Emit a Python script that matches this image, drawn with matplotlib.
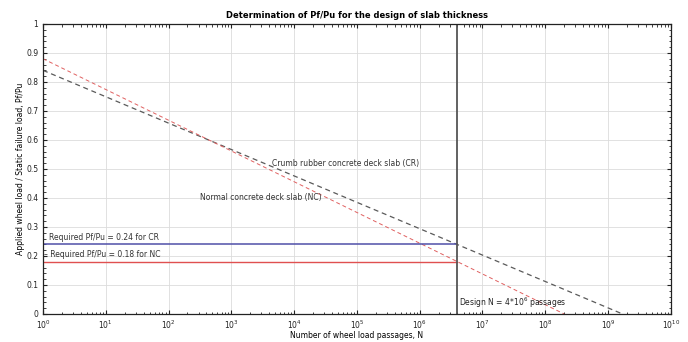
import numpy as np
import matplotlib
matplotlib.use('Agg')
import matplotlib.pyplot as plt
from matplotlib.ticker import FixedLocator, MultipleLocator, NullFormatter

# S-N type lines (start and end points)
cr_N = [1e0, 1.7e9]
cr_ratio = [0.84, 0.0]
nc_N = [1e0, 2.0e8]
nc_ratio = [0.88, 0.0]

design_N = 4e6
required_cr = 0.24
required_nc = 0.18

x_decades = np.arange(0, 11)

plt.rcParams['font.family'] = 'DejaVu Sans'
plt.rcParams['font.size'] = 5.5

fig = plt.figure(figsize=(6.88, 3.42), dpi=100)
ax = fig.add_axes([0.0625, 0.082, 0.9125, 0.848])

# fatigue lines
ax.plot(cr_N, cr_ratio, '--', color='#5a5a5a', lw=0.9, dashes=(4, 3))
ax.plot(nc_N, nc_ratio, '--', color='#e06060', lw=0.7, dashes=(4, 3))

# required ratios up to the design number of passages
ax.plot([1e0, design_N], [required_cr, required_cr], color='#5050a8', lw=1.1)
ax.plot([1e0, design_N], [required_nc, required_nc], color='#e05050', lw=1.0)
ax.axvline(design_N, color='#555555', lw=1.3)

ax.text(1.25, 0.265, 'Required Pf/Pu = 0.24 for CR', fontsize=5.5, color='#333333', va='center')
ax.text(1.05, 0.205, '\u2013 Required Pf/Pu = 0.18 for NC', fontsize=5.5, color='#333333', va='center')
ax.text(4.5e3, 0.52, 'Crumb rubber concrete deck slab (CR)', fontsize=5.5, color='#333333', va='center')
ax.text(3.2e2, 0.40, 'Normal concrete deck slab (NC)', fontsize=5.5, color='#333333', va='center')
ax.text(4.3e6, 0.04, 'Design N = 4*10$^6$ passages', fontsize=5.5, color='#222222', va='center')

ax.set_xscale('log')
ax.set_xlim(1e0, 1e10)
ax.set_ylim(0, 1)
major_x = 10.0 ** x_decades
minor_x = [m * 10.0 ** d for d in x_decades[:-1] for m in range(2, 10)]
ax.xaxis.set_major_locator(FixedLocator(major_x))
ax.xaxis.set_minor_locator(FixedLocator(minor_x))
ax.set_xticklabels([f'$10^{{{d}}}$' for d in x_decades])
ax.xaxis.set_minor_formatter(NullFormatter())
ax.yaxis.set_minor_locator(MultipleLocator(0.02))
ax.set_yticks(np.arange(0, 1.01, 0.1))
ax.set_yticklabels(['0'] + [f'{v:.1f}' for v in np.arange(0.1, 0.95, 0.1)] + ['1'])

ax.tick_params(which='both', direction='in', top=True, right=True, labelsize=5.5, colors='#222222')
ax.tick_params(which='major', length=3, width=0.8)
ax.tick_params(which='minor', length=1.8, width=0.6)
ax.tick_params(axis='x', pad=3.5)
ax.tick_params(axis='y', pad=3.5)
ax.grid(True, which='major', color='#dcdcdc', lw=0.6)
for s in ax.spines.values():
    s.set_linewidth(0.9)
    s.set_color('#222222')

ax.set_title('Determination of Pf/Pu for the design of slab thickness', fontsize=6, fontweight='bold', pad=4)
ax.set_xlabel('Number of wheel load passages, N', fontsize=5.5, labelpad=0)
ax.set_ylabel('Applied wheel load / Static failure load, Pf/Pu', fontsize=5.5, labelpad=1)

fig.savefig('out.png', dpi=100)
